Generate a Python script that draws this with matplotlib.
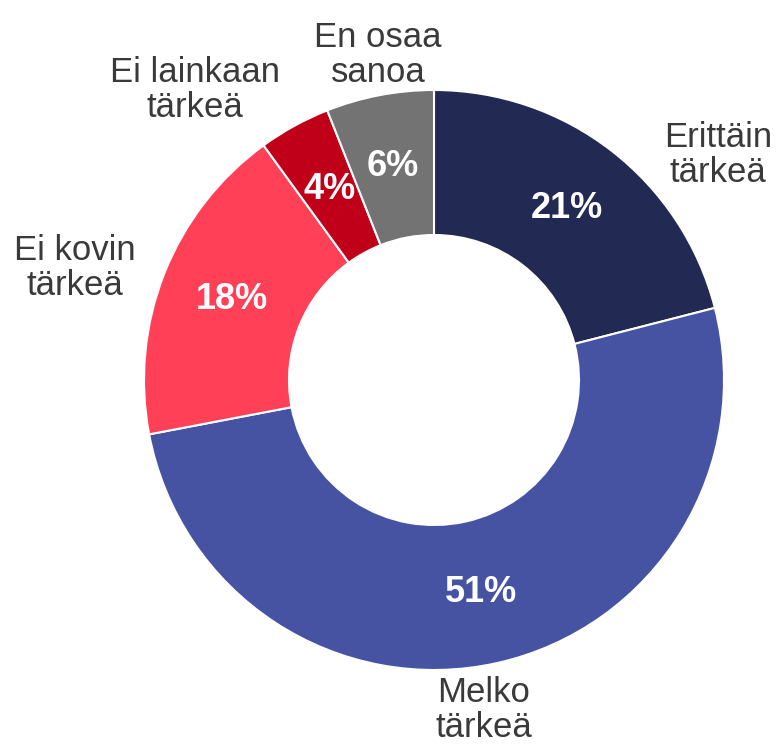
import matplotlib.pyplot as plt

plt.rcParams['font.family'] = ['Liberation Sans', 'DejaVu Sans']

labels = ['Erittäin\ntärkeä', 'Melko\ntärkeä', 'Ei kovin\ntärkeä', 'Ei lainkaan\ntärkeä', 'En osaa\nsanoa']
values = [21, 51, 18, 4, 6]
colors = ['#222A54', '#4653A3', '#FF4057', '#C00018', '#737373']

# label positions in pixel coords (x from left, y from top)
label_pos = [(718, 155), (484, 710), (75, 268), (195, 90), (378, 55)]

fig = plt.figure(figsize=(7.82, 7.47), dpi=100)
ax = fig.add_axes([0, 0, 1, 1])

wedges, texts, autotexts = ax.pie(
    values, colors=colors, startangle=90, counterclock=False,
    center=(434, 747 - 380), radius=290, frame=True,
    autopct='%d%%', pctdistance=0.75,
    wedgeprops=dict(width=145, edgecolor='white', linewidth=1.5),
    textprops=dict(color='white', fontsize=26, fontweight='bold'))

for lab, (x, y) in zip(labels, label_pos):
    ax.text(x, 747 - y, lab, ha='center', va='center', fontsize=25,
            color='#3a3a3a', linespacing=1.1)

ax.set_xlim(0, 782)
ax.set_ylim(0, 747)
ax.set_aspect('equal')
ax.axis('off')

fig.savefig('out.png', dpi=100)
